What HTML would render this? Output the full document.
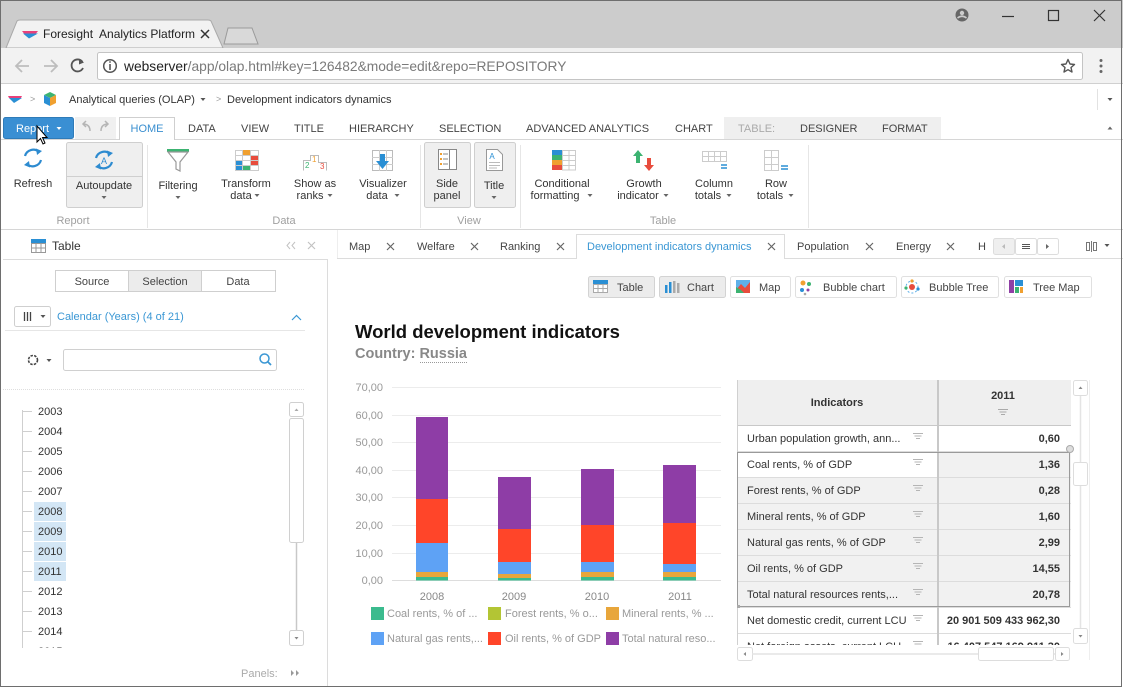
<!DOCTYPE html>
<html><head><meta charset="utf-8"><style>
html,body{margin:0;padding:0;background:#fff;width:1123px;height:687px;overflow:hidden;}
svg{display:block;font-family:"Liberation Sans",sans-serif;}
</style></head><body>
<svg width="1123" height="687" viewBox="0 0 1123 687" xmlns="http://www.w3.org/2000/svg">
<defs>
<clipPath id="treeclip"><rect x="0" y="398" width="290" height="250"/></clipPath>
<clipPath id="tblclip"><rect x="737" y="380" width="335" height="265"/></clipPath>
</defs>
<!-- title bar -->
<rect x="0" y="0" width="1123" height="48" fill="#cccccc"/>
<path d="M6,48 L17,21 Q18,20 20,20 L208,20 Q210,20 211,21 L223,48 Z" fill="#f2f2f2" stroke="#a9a9a9"/>
<path d="M224,44 L228,28 L252,28 L258,44 Z" fill="#d9d9d9" stroke="#9a9a9a"/>
<path d="M22,31 L38,31 L36,33.5 L24,33.5Z" fill="#e8407a"/>
<path d="M23,33.5 L38,33.5 L29,38.5 Z" fill="#2a8fd4"/>
<text x="43" y="38" font-size="12" fill="#222">Foresight&#160; Analytics Platform</text>
<path d="M201,30 L209,38 M209,30 L201,38" stroke="#333" stroke-width="1.5"/>
<!-- window controls -->
<circle cx="962" cy="15" r="6.5" fill="#666"/>
<circle cx="962" cy="13" r="2.2" fill="#ccc"/>
<path d="M957.5,18 Q962,14.5 966.5,18" stroke="#ccc" stroke-width="1.6" fill="none"/>
<path d="M1002,16.5 L1014,16.5" stroke="#333" stroke-width="1.2"/>
<rect x="1048.5" y="10.5" width="10" height="10" fill="none" stroke="#333" stroke-width="1.2"/>
<path d="M1094,10 L1105,21 M1105,10 L1094,21" stroke="#333" stroke-width="1.2"/>
<!-- toolbar -->
<rect x="0" y="48" width="1123" height="35" fill="#f2f2f2"/>
<path d="M0,83.5 L1123,83.5" stroke="#d0d0d0"/>
<path d="M16,66 L29,66 M22,60 L16,66 L22,72" stroke="#bdbdbd" stroke-width="1.8" fill="none"/>
<path d="M44,66 L57,66 M51,60 L57,66 L51,72" stroke="#bdbdbd" stroke-width="1.8" fill="none"/>
<path d="M82.5,62 A6,6 0 1 0 83,68" stroke="#555" stroke-width="1.8" fill="none"/>
<path d="M79,59 L84,62.5 L79,64.5Z" fill="#555"/>
<rect x="97.5" y="52.5" width="985" height="27" rx="2" fill="#fff" stroke="#c4c4c4"/>
<circle cx="110" cy="66" r="6.3" fill="none" stroke="#555" stroke-width="1.5"/>
<path d="M110,64 L110,70" stroke="#555" stroke-width="1.6"/><circle cx="110" cy="62" r="0.9" fill="#555"/>
<text x="124" y="71" font-size="13.8"><tspan fill="#222">webserver</tspan><tspan fill="#7a7a7a">/app/olap.html#key=126482&amp;mode=edit&amp;repo=REPOSITORY</tspan></text>
<path d="M1068,59.5 L1070,64 L1074.5,64.5 L1071,67.5 L1072,72 L1068,69.7 L1064,72 L1065,67.5 L1061.5,64.5 L1066,64 Z" fill="none" stroke="#555" stroke-width="1.4" stroke-linejoin="round"/>
<circle cx="1101" cy="60.5" r="1.5" fill="#666"/><circle cx="1101" cy="66" r="1.5" fill="#666"/><circle cx="1101" cy="71.5" r="1.5" fill="#666"/>
<!-- breadcrumb -->
<path d="M8,96 L22,96 L21,98 L9,98Z" fill="#e8407a"/>
<path d="M9,98 L22,98 L14,103 Z" fill="#2a8fd4"/>
<text x="30" y="102" font-size="9" fill="#999">&gt;</text>
<path d="M50,92 L56,95 L50,98 L44,95Z" fill="#3cb371"/>
<path d="M44,95 L50,98 L50,106 L44,103Z" fill="#2a8fd4"/>
<path d="M56,95 L50,98 L50,106 L56,103Z" fill="#f0a030"/>
<text x="69" y="103" font-size="11" fill="#333">Analytical queries (OLAP)</text>
<path d="M200.5,98 L205.5,98 L203,101Z" fill="#555"/>
<text x="216" y="102" font-size="9" fill="#999">&gt;</text>
<text x="227" y="103" font-size="11" fill="#333">Development indicators dynamics</text>
<path d="M1097.5,89 L1097.5,110" stroke="#e2e2e2"/>
<path d="M1107.5,98 L1112.5,98 L1110,101Z" fill="#555"/>
<!-- ribbon tabs -->
<rect x="3.5" y="117.5" width="70" height="21" rx="2" fill="#3a8fd3" stroke="#2f7bb8"/>
<text x="16" y="132" font-size="11" fill="#fff">Report</text>
<path d="M56.5,127 L61.5,127 L59,130Z" fill="#fff"/>
<rect x="75" y="117" width="41" height="22" fill="#f0f0f0"/>
<path d="M90,131 Q90,124 83,124 M86,121 L83,124 L86,127" stroke="#b5b5b5" stroke-width="1.5" fill="none"/>
<path d="M101,131 Q101,124 108,124 M105,121 L108,124 L105,127" stroke="#b5b5b5" stroke-width="1.5" fill="none"/>
<path d="M0,139.5 L119,139.5 M174,139.5 L1123,139.5" stroke="#d6d6d6"/>
<path d="M119.5,140 L119.5,117.5 L174.5,117.5 L174.5,140" fill="#fff" stroke="#cfcfcf"/>
<text x="147" y="132" font-size="11" fill="#3a8fd0" text-anchor="middle">HOME</text>
<g font-size="11" fill="#444">
<text x="188" y="132">DATA</text>
<text x="241" y="132">VIEW</text>
<text x="294" y="132">TITLE</text>
<text x="349" y="132">HIERARCHY</text>
<text x="439" y="132">SELECTION</text>
<text x="526" y="132">ADVANCED ANALYTICS</text>
<text x="675" y="132">CHART</text>
</g>
<rect x="724" y="117" width="217" height="22" fill="#efefef"/>
<text x="738" y="132" font-size="11" fill="#aaa">TABLE:</text>
<text x="800" y="132" font-size="11" fill="#444">DESIGNER</text>
<text x="882" y="132" font-size="11" fill="#444">FORMAT</text>
<path d="M1107.5,129.5 L1112.5,129.5 L1110,126.5Z" fill="#666"/>
<!-- ribbon body -->
<g stroke="#2d8bd0" stroke-width="2.2" fill="none">
<path d="M25,156 A8.5,8.5 0 0 1 39,152"/><path d="M41,160 A8.5,8.5 0 0 1 27,164"/>
</g>
<path d="M36,148.5 L42,151 L37,155Z" fill="#2d8bd0"/><path d="M30,167.5 L24,165 L29,161Z" fill="#2d8bd0"/>
<text x="33" y="187" font-size="11" fill="#333" text-anchor="middle">Refresh</text>
<rect x="66.5" y="142.5" width="76" height="65" rx="2" fill="#efefef" stroke="#cfcfcf"/>
<path d="M67,176.5 L142,176.5" stroke="#cfcfcf"/>
<g stroke="#2d8bd0" stroke-width="2.2" fill="none">
<path d="M96,158 A8.5,8.5 0 0 1 110,154"/><path d="M112,162 A8.5,8.5 0 0 1 98,166"/>
</g>
<path d="M107,150.5 L113,153 L108,157Z" fill="#2d8bd0"/><path d="M101,169.5 L95,167 L100,163Z" fill="#2d8bd0"/>
<text x="104" y="164" font-size="9" fill="#2d8bd0" text-anchor="middle">A</text>
<text x="104" y="189" font-size="11" fill="#333" text-anchor="middle">Autoupdate</text>
<path d="M101.5,196 L106.5,196 L104,199Z" fill="#666"/>
<path d="M147.5,145 L147.5,228" stroke="#e6e6e6"/>
<!-- filtering -->
<rect x="167" y="149" width="22" height="3" fill="#3cb371"/>
<path d="M168,152 L188,152 L180,162 L180,171 L176,169 L176,162 Z" fill="none" stroke="#999" stroke-width="1.2"/>
<text x="178" y="189" font-size="11" fill="#333" text-anchor="middle">Filtering</text>
<path d="M175.5,196 L180.5,196 L178,199Z" fill="#666"/>
<!-- transform -->
<g stroke="#ccc" fill="#fff"><rect x="235.5" y="150.5" width="23" height="20"/></g>
<rect x="243" y="150" width="7" height="5" fill="#f0a030"/>
<rect x="251" y="155" width="7" height="10" fill="#e84c3d"/>
<rect x="236" y="160" width="6" height="10" fill="#2a8fd4"/>
<rect x="243" y="165" width="7" height="5" fill="#3cb371"/>
<path d="M242.5,150 L242.5,171 M250.5,150 L250.5,171 M235,155.5 L259,155.5 M235,160.5 L259,160.5 M235,165.5 L259,165.5" stroke="#ccc"/>
<text x="246" y="187" font-size="11" fill="#333" text-anchor="middle">Transform</text>
<text x="241" y="199" font-size="11" fill="#333" text-anchor="middle">data</text>
<path d="M254.5,194 L259.5,194 L257,197Z" fill="#666"/>
<!-- ranks -->
<path d="M303.5,170.5 L303.5,160.5 L310.5,160.5 L310.5,155.5 L318.5,155.5 L318.5,162.5 L326.5,162.5 L326.5,170.5" fill="none" stroke="#bbb"/>
<text x="305" y="168" font-size="8" fill="#3cb371">2</text>
<text x="312" y="162" font-size="8" fill="#f0a030">1</text>
<text x="320" y="169" font-size="8" fill="#e84c3d">3</text>
<text x="315" y="187" font-size="11" fill="#333" text-anchor="middle">Show as</text>
<text x="310" y="199" font-size="11" fill="#333" text-anchor="middle">ranks</text>
<path d="M327.5,194 L332.5,194 L330,197Z" fill="#666"/>
<!-- visualizer -->
<rect x="372.5" y="150.5" width="20" height="20" fill="#fff" stroke="#bbb"/>
<path d="M379.5,150 L379.5,171 M386.5,150 L386.5,171 M372,157.5 L393,157.5 M372,164.5 L393,164.5" stroke="#ccc"/>
<path d="M380,154 L385,154 L385,161 L389,161 L382.5,169 L376,161 L380,161Z" fill="#2a8fd4"/>
<text x="383" y="187" font-size="11" fill="#333" text-anchor="middle">Visualizer</text>
<text x="377" y="199" font-size="11" fill="#333" text-anchor="middle">data</text>
<path d="M394.5,194 L399.5,194 L397,197Z" fill="#666"/>
<path d="M420.5,145 L420.5,228" stroke="#e6e6e6"/>
<!-- side panel -->
<rect x="424.5" y="142.5" width="46" height="65" rx="2" fill="#efefef" stroke="#cfcfcf"/>
<rect x="438.5" y="149.5" width="18" height="20" fill="#fff" stroke="#888"/>
<path d="M449.5,149.5 L449.5,169.5" stroke="#888"/>
<g fill="#f0a030"><rect x="440" y="153" width="2" height="2"/><rect x="440" y="158" width="2" height="2"/><rect x="440" y="163" width="2" height="2"/></g>
<path d="M443,154 L448,154 M443,159 L448,159 M443,164 L448,164" stroke="#888"/>
<text x="447" y="187" font-size="11" fill="#333" text-anchor="middle">Side</text>
<text x="447" y="199" font-size="11" fill="#333" text-anchor="middle">panel</text>
<!-- title -->
<rect x="474.5" y="142.5" width="41" height="65" rx="2" fill="#efefef" stroke="#cfcfcf"/>
<path d="M486.5,149.5 L497.5,149.5 L502.5,154.5 L502.5,170.5 L486.5,170.5Z" fill="#fff" stroke="#999"/>
<text x="492" y="159" font-size="8" fill="#2a8fd4" text-anchor="middle">A</text>
<path d="M489,162.5 L500,162.5 M489,165.5 L500,165.5 M489,168 L497,168" stroke="#bbb"/>
<text x="494" y="189" font-size="11" fill="#333" text-anchor="middle">Title</text>
<path d="M491.5,196 L496.5,196 L494,199Z" fill="#666"/>
<path d="M520.5,145 L520.5,228" stroke="#e6e6e6"/>
<!-- conditional -->
<rect x="552" y="150" width="5" height="5" fill="#2a8fd4"/><rect x="557" y="150" width="5" height="5" fill="#2a8fd4"/>
<rect x="552" y="155" width="5" height="5" fill="#3cb371"/><rect x="557" y="155" width="5" height="5" fill="#3cb371"/>
<rect x="552" y="160" width="5" height="5" fill="#f0a030"/><rect x="557" y="160" width="5" height="5" fill="#f0a030"/>
<rect x="552" y="165" width="5" height="5" fill="#e84c3d"/><rect x="557" y="165" width="5" height="5" fill="#e84c3d"/>
<rect x="562.5" y="150.5" width="13" height="19.5" fill="#fff" stroke="#ccc"/>
<path d="M569,150 L569,170 M562,155.5 L576,155.5 M562,160.5 L576,160.5 M562,165.5 L576,165.5" stroke="#ccc"/>
<text x="562" y="187" font-size="11" fill="#333" text-anchor="middle">Conditional</text>
<text x="555" y="199" font-size="11" fill="#333" text-anchor="middle">formatting</text>
<path d="M587.5,194 L592.5,194 L590,197Z" fill="#666"/>
<!-- growth -->
<path d="M638,150 L643,156 L640,156 L640,163 L636,163 L636,156 L633,156Z" fill="#3cb371"/>
<path d="M649,171 L654,165 L651,165 L651,158 L647,158 L647,165 L644,165Z" fill="#e84c3d"/>
<text x="644" y="187" font-size="11" fill="#333" text-anchor="middle">Growth</text>
<text x="638" y="199" font-size="11" fill="#333" text-anchor="middle">indicator</text>
<path d="M663.5,194 L668.5,194 L666,197Z" fill="#666"/>
<!-- column totals -->
<rect x="702.5" y="151.5" width="24" height="10" fill="#fff" stroke="#ccc"/>
<path d="M708.5,151 L708.5,162 M714.5,151 L714.5,162 M720.5,151 L720.5,162 M702,156.5 L727,156.5" stroke="#ccc"/>
<path d="M721,165 L727,165 M721,168 L727,168" stroke="#2a8fd4" stroke-width="1.6"/>
<text x="714" y="187" font-size="11" fill="#333" text-anchor="middle">Column</text>
<text x="708" y="199" font-size="11" fill="#333" text-anchor="middle">totals</text>
<path d="M726.5,194 L731.5,194 L729,197Z" fill="#666"/>
<!-- row totals -->
<rect x="764.5" y="150.5" width="14" height="20" fill="#fff" stroke="#ccc"/>
<path d="M771.5,150 L771.5,171 M764,157.5 L779,157.5 M764,164.5 L779,164.5" stroke="#ccc"/>
<path d="M781,166 L788,166 M781,169 L788,169" stroke="#2a8fd4" stroke-width="1.6"/>
<text x="776" y="187" font-size="11" fill="#333" text-anchor="middle">Row</text>
<text x="770" y="199" font-size="11" fill="#333" text-anchor="middle">totals</text>
<path d="M788.5,194 L793.5,194 L791,197Z" fill="#666"/>
<path d="M808.5,145 L808.5,228" stroke="#e6e6e6"/>
<!-- group labels -->
<g font-size="11" fill="#a0a0a0" text-anchor="middle">
<text x="73" y="224">Report</text><text x="284" y="224">Data</text><text x="469" y="224">View</text><text x="663" y="224">Table</text>
</g>
<path d="M0,229.5 L1123,229.5" stroke="#d6d6d6"/>
<!-- cursor -->
<path d="M37,126 L37,142 L40.5,138.5 L43,144 L45,143 L42.5,137.5 L47,137.5 Z" fill="#fff" stroke="#000" stroke-width="1"/>

<!-- LEFT PANEL -->
<rect x="31" y="239" width="15" height="4" fill="#2a8fd4"/>
<rect x="31.5" y="243.5" width="14" height="9" fill="#fff" stroke="#999"/>
<path d="M36,243 L36,253 M41,243 L41,253 M31,248 L46,248" stroke="#999"/>
<text x="52" y="250" font-size="12" fill="#333">Table</text>
<path d="M290,242 L287,245.5 L290,249 M295,242 L292,245.5 L295,249" stroke="#c2c2c2" fill="none"/>
<path d="M308,242 L315,249 M315,242 L308,249" stroke="#c2c2c2" stroke-width="1.2"/>
<path d="M3,259.5 L327.5,259.5 L327.5,687" stroke="#dcdcdc" fill="none"/>
<path d="M337.5,230 L337.5,259" stroke="#eee"/>
<rect x="55.5" y="270.5" width="220" height="21" fill="#fff" stroke="#cfcfcf"/>
<rect x="128.5" y="270.5" width="73" height="21" fill="#ececec" stroke="#cfcfcf"/>
<g font-size="11" fill="#444" text-anchor="middle">
<text x="92" y="285">Source</text><text x="165" y="285">Selection</text><text x="238" y="285">Data</text>
</g>
<rect x="14.5" y="306.5" width="36" height="20" rx="2" fill="#fff" stroke="#cfcfcf"/>
<path d="M24.5,312 L24.5,321 M27.5,312 L27.5,321 M30.5,312 L30.5,321" stroke="#444" stroke-width="1.3"/>
<path d="M40.5,315 L45.5,315 L43,318Z" fill="#555"/>
<text x="57" y="320" font-size="11" fill="#3a97d4">Calendar (Years) (4 of 21)</text>
<path d="M292,320 L296.5,315.5 L301,320" stroke="#3a97d4" fill="none" stroke-width="1.2"/>
<path d="M5,330.5 L305,330.5" stroke="#e6e6e6"/>
<circle cx="33" cy="360" r="4.5" fill="none" stroke="#444" stroke-width="1.6" stroke-dasharray="2.5 1.2"/>
<path d="M46.5,359 L51.5,359 L49,362Z" fill="#555"/>
<rect x="63.5" y="349.5" width="213" height="21" rx="2" fill="#fff" stroke="#d0d0d0"/>
<circle cx="264.5" cy="358.5" r="4.5" fill="none" stroke="#3a97d4" stroke-width="1.5"/>
<path d="M268,362 L271,365" stroke="#3a97d4" stroke-width="1.8"/>
<path d="M3,389.5 L305,389.5" stroke="#dedede" stroke-dasharray="1 1"/>
<g clip-path="url(#treeclip)">
<path d="M22.5,410 L22.5,648" stroke="#cfcfcf"/>
<g stroke="#cfcfcf">
<path d="M22,411.5 L32,411.5 M22,431.5 L32,431.5 M22,451.5 L32,451.5 M22,471.5 L32,471.5 M22,491.5 L32,491.5 M22,511.5 L32,511.5 M22,531.5 L32,531.5 M22,551.5 L32,551.5 M22,571.5 L32,571.5 M22,591.5 L32,591.5 M22,611.5 L32,611.5 M22,631.5 L32,631.5 M22,651.5 L32,651.5"/>
</g>
<g fill="#d3e6f5">
<rect x="34" y="502" width="32" height="19"/><rect x="34" y="522" width="32" height="19"/><rect x="34" y="542" width="32" height="19"/><rect x="34" y="562" width="32" height="19"/>
</g>
<g font-size="11" fill="#333">
<text x="38" y="415">2003</text><text x="38" y="435">2004</text><text x="38" y="455">2005</text><text x="38" y="475">2006</text>
<text x="38" y="495">2007</text><text x="38" y="515">2008</text><text x="38" y="535">2009</text><text x="38" y="555">2010</text>
<text x="38" y="575">2011</text><text x="38" y="595">2012</text><text x="38" y="615">2013</text><text x="38" y="635">2014</text>
<text x="38" y="655">2015</text>
</g>
</g>
<rect x="289.5" y="402.5" width="14" height="14" rx="2" fill="#fff" stroke="#d0d0d0"/>
<path d="M294.5,411 L298.5,411 L296.5,408.5Z" fill="#aaa"/>
<rect x="289.5" y="418.5" width="14" height="124" rx="2" fill="#fff" stroke="#d0d0d0"/>
<path d="M296.5,543 L296.5,630" stroke="#c8c8c8" stroke-width="1.5"/>
<rect x="289.5" y="630.5" width="14" height="15" rx="2" fill="#fff" stroke="#d0d0d0"/>
<path d="M294.5,637 L298.5,637 L296.5,639.5Z" fill="#888"/>
<text x="241" y="677" font-size="11" fill="#aaa">Panels:</text>
<path d="M291,670 L294,673 L291,676Z M296,670 L299,673 L296,676Z" fill="#999"/>

<!-- MAIN TABS -->
<path d="M337,258.5 L576,258.5 M784,258.5 L1123,258.5" stroke="#dcdcdc"/>
<path d="M576.5,259 L576.5,234.5 L784.5,234.5 L784.5,259" fill="#fff" stroke="#dcdcdc"/>
<g font-size="11" fill="#444">
<text x="349" y="250">Map</text><text x="417" y="250">Welfare</text><text x="500" y="250">Ranking</text>
<text x="797" y="250">Population</text><text x="896" y="250">Energy</text><text x="978" y="250">H</text>
</g>
<text x="587" y="250" font-size="11" fill="#3a97d4">Development indicators dynamics</text>
<g stroke="#666" stroke-width="1.2">
<path d="M387,243 L394,250 M394,243 L387,250"/>
<path d="M471,243 L478,250 M478,243 L471,250"/>
<path d="M557,243 L564,250 M564,243 L557,250"/>
<path d="M768,243 L775,250 M775,243 L768,250"/>
<path d="M866,243 L873,250 M873,243 L866,250"/>
<path d="M947,243 L954,250 M954,243 L947,250"/>
</g>
<rect x="993.5" y="238.5" width="21" height="16" rx="2" fill="#efefef" stroke="#ddd"/>
<rect x="1015.5" y="238.5" width="21" height="16" rx="2" fill="#fff" stroke="#ddd"/>
<rect x="1037.5" y="238.5" width="21" height="16" rx="2" fill="#fff" stroke="#ddd"/>
<path d="M1005,244 L1002,246.5 L1005,249Z" fill="#bbb"/>
<path d="M1022,244.5 L1030,244.5 M1022,246.5 L1030,246.5 M1022,248.5 L1030,248.5" stroke="#555"/>
<path d="M1046,244 L1049,246.5 L1046,249Z" fill="#666"/>
<path d="M1086.5,242.5 L1086.5,250.5 M1089.5,242.5 L1089.5,250.5 M1093.5,242.5 L1093.5,250.5 M1096.5,242.5 L1096.5,250.5 M1086,242.5 L1090,242.5 M1086,250.5 L1090,250.5 M1093,242.5 L1097,242.5 M1093,250.5 L1097,250.5 M1091.5,241 L1091.5,252" stroke="#777"/>
<path d="M1104.5,244 L1109.5,244 L1107,247Z" fill="#555"/>

<!-- view buttons -->
<rect x="588.5" y="276.5" width="66" height="21" rx="2" fill="#ececec" stroke="#d3d3d3"/>
<rect x="659.5" y="276.5" width="66" height="21" rx="2" fill="#ececec" stroke="#d3d3d3"/>
<rect x="730.5" y="276.5" width="60" height="21" rx="2" fill="#fff" stroke="#e0e0e0"/>
<rect x="795.5" y="276.5" width="101" height="21" rx="2" fill="#fff" stroke="#e0e0e0"/>
<rect x="901.5" y="276.5" width="97" height="21" rx="2" fill="#fff" stroke="#e0e0e0"/>
<rect x="1004.5" y="276.5" width="87" height="21" rx="2" fill="#fff" stroke="#e0e0e0"/>
<rect x="593" y="280" width="15" height="4" fill="#2a8fd4"/>
<rect x="593.5" y="284.5" width="14" height="8" fill="#fff" stroke="#aaa"/>
<path d="M598,284 L598,293 M603,284 L603,293 M593,288.5 L608,288.5" stroke="#aaa"/>
<rect x="665" y="285" width="2.5" height="8" fill="#2a8fd4"/><rect x="669" y="282" width="2.5" height="11" fill="#2a8fd4"/><rect x="673" y="281" width="2.5" height="12" fill="#aaa"/><rect x="677" y="283" width="2.5" height="10" fill="#aaa"/>
<rect x="736" y="280" width="14" height="13" fill="#5fb0e8"/><path d="M736,290 L741,284 L745,288 L750,282 L750,293 L736,293Z" fill="#e84c3d"/><path d="M736,293 L736,287 L741,290 L744,293Z" fill="#3cb371"/>
<circle cx="803" cy="283" r="2.5" fill="#f0a030"/><circle cx="809" cy="284" r="2" fill="#3cb371"/><circle cx="802" cy="290" r="2" fill="#2a8fd4"/><circle cx="808" cy="290" r="1.5" fill="#8f3fa5"/><circle cx="805" cy="294" r="1.3" fill="#aaa"/>
<circle cx="912" cy="287" r="3" fill="#e84c3d"/><circle cx="912" cy="287" r="6" fill="none" stroke="#5fb0e8" stroke-width="1" stroke-dasharray="2 2"/><circle cx="912" cy="281" r="1.6" fill="#f0a030"/><circle cx="906" cy="288" r="1.6" fill="#3cb371"/><circle cx="918" cy="289" r="1.6" fill="#2a8fd4"/>
<rect x="1009" y="280" width="5" height="13" fill="#8f3fa5"/><rect x="1015" y="280" width="8" height="6" fill="#2a8fd4"/><rect x="1015" y="287" width="4" height="6" fill="#3cb371"/><rect x="1020" y="287" width="3" height="6" fill="#f0a030"/>
<g font-size="11" fill="#444">
<text x="617" y="291">Table</text><text x="687" y="291">Chart</text><text x="759" y="291">Map</text>
<text x="823" y="291">Bubble chart</text><text x="929" y="291">Bubble Tree</text><text x="1033" y="291">Tree Map</text>
</g>

<!-- CHART -->
<text x="355" y="338" font-size="18.5" font-weight="bold" fill="#111">World development indicators</text>
<text x="355" y="358" font-size="14.5" font-weight="bold" fill="#888">Country: <tspan>Russia</tspan></text>
<path d="M420,362.5 L467,362.5" stroke="#999" stroke-dasharray="1 1"/>
<g stroke="#ececec">
<path d="M392,387.5 L721,387.5 M392,415.5 L721,415.5 M392,442.5 L721,442.5 M392,470.5 L721,470.5 M392,497.5 L721,497.5 M392,525.5 L721,525.5 M392,553.5 L721,553.5"/>
</g>
<path d="M392,580.5 L721,580.5" stroke="#ddd"/>
<g font-size="11" fill="#999" text-anchor="end">
<text x="383" y="391">70,00</text><text x="383" y="419">60,00</text><text x="383" y="446">50,00</text><text x="383" y="474">40,00</text>
<text x="383" y="501">30,00</text><text x="383" y="529">20,00</text><text x="383" y="557">10,00</text><text x="383" y="584">0,00</text>
</g>
<!-- 2008 -->
<rect x="416" y="417" width="32" height="82" fill="#8e3da6"/>
<rect x="416" y="499" width="32" height="44" fill="#ff4529"/>
<rect x="416" y="543" width="32" height="29" fill="#5ea2f5"/>
<rect x="416" y="572" width="32" height="5" fill="#e8a63b"/>
<rect x="416" y="577" width="32" height="3.5" fill="#3bbb8e"/>
<!-- 2009 -->
<rect x="498" y="477" width="33" height="52" fill="#8e3da6"/>
<rect x="498" y="529" width="33" height="33" fill="#ff4529"/>
<rect x="498" y="562" width="33" height="12" fill="#5ea2f5"/>
<rect x="498" y="574" width="33" height="4" fill="#e8a63b"/>
<rect x="498" y="578" width="33" height="2.5" fill="#3bbb8e"/>
<!-- 2010 -->
<rect x="581" y="469" width="33" height="56" fill="#8e3da6"/>
<rect x="581" y="525" width="33" height="37" fill="#ff4529"/>
<rect x="581" y="562" width="33" height="10" fill="#5ea2f5"/>
<rect x="581" y="572" width="33" height="5" fill="#e8a63b"/>
<rect x="581" y="577" width="33" height="3.5" fill="#3bbb8e"/>
<!-- 2011 -->
<rect x="663" y="465" width="33" height="58" fill="#8e3da6"/>
<rect x="663" y="523" width="33" height="41" fill="#ff4529"/>
<rect x="663" y="564" width="33" height="8" fill="#5ea2f5"/>
<rect x="663" y="572" width="33" height="5" fill="#e8a63b"/>
<rect x="663" y="577" width="33" height="3.5" fill="#3bbb8e"/>
<g font-size="11" fill="#888" text-anchor="middle">
<text x="432" y="600">2008</text><text x="514" y="600">2009</text><text x="597" y="600">2010</text><text x="680" y="600">2011</text>
</g>
<rect x="371" y="607" width="13" height="13" fill="#3bbb8e"/>
<rect x="488" y="607" width="13" height="13" fill="#b3c534"/>
<rect x="606" y="607" width="13" height="13" fill="#e8a63b"/>
<rect x="371" y="632" width="13" height="13" fill="#5ea2f5"/>
<rect x="488" y="632" width="13" height="13" fill="#ff4529"/>
<rect x="606" y="632" width="13" height="13" fill="#8e3da6"/>
<g font-size="11" fill="#999">
<text x="387" y="617">Coal rents, % of ...</text><text x="505" y="617">Forest rents, % o...</text><text x="622" y="617">Mineral rents, % ...</text>
<text x="387" y="642">Natural gas rents,...</text><text x="505" y="642">Oil rents, % of GDP</text><text x="622" y="642">Total natural reso...</text>
</g>

<!-- TABLE -->
<g clip-path="url(#tblclip)">
<rect x="737" y="380" width="334" height="45" fill="#efefef"/>
<rect x="737" y="451" width="334" height="156" fill="#f1f1f1"/>
<rect x="738" y="452" width="200" height="25" fill="#fff"/>
<g stroke="#dcdcdc">
<path d="M737,425.5 L1071,425.5" stroke="#c8c8c8"/>
<path d="M737,451.5 L1071,451.5 M737,477.5 L1071,477.5 M737,503.5 L1071,503.5 M737,529.5 L1071,529.5 M737,555.5 L1071,555.5 M737,581.5 L1071,581.5 M737,607.5 L1071,607.5 M737,633.5 L1071,633.5"/>
</g>
<path d="M737.5,380 L737.5,645" stroke="#d0d0d0"/>
<path d="M938,380 L938,645" stroke="#c8c8c8" stroke-width="2"/>
<rect x="737.5" y="452.5" width="332" height="154" fill="none" stroke="#9a9a9a"/>
<text x="837" y="406" font-size="11" font-weight="bold" fill="#333" text-anchor="middle">Indicators</text>
<text x="1003" y="399" font-size="11" font-weight="bold" fill="#333" text-anchor="middle">2011</text>
<path d="M998,409.5 L1008,409.5 M999.5,412 L1006.5,412 M1001,414.5 L1005,414.5" stroke="#aaa"/>
<g font-size="11" fill="#333">
<text x="747" y="442">Urban population growth, ann...</text>
<text x="747" y="468">Coal rents, % of GDP</text>
<text x="747" y="494">Forest rents, % of GDP</text>
<text x="747" y="520">Mineral rents, % of GDP</text>
<text x="747" y="546">Natural gas rents, % of GDP</text>
<text x="747" y="572">Oil rents, % of GDP</text>
<text x="747" y="598">Total natural resources rents,...</text>
<text x="747" y="624">Net domestic credit, current LCU</text>
<text x="747" y="650">Net foreign assets, current LCU</text>
</g>
<g stroke="#b5b5b5">
<path d="M913,433.5 L923,433.5 M914.5,436 L921.5,436 M916,438.5 L920,438.5"/>
<path d="M913,459.5 L923,459.5 M914.5,462 L921.5,462 M916,464.5 L920,464.5"/>
<path d="M913,485.5 L923,485.5 M914.5,488 L921.5,488 M916,490.5 L920,490.5"/>
<path d="M913,511.5 L923,511.5 M914.5,514 L921.5,514 M916,516.5 L920,516.5"/>
<path d="M913,537.5 L923,537.5 M914.5,540 L921.5,540 M916,542.5 L920,542.5"/>
<path d="M913,563.5 L923,563.5 M914.5,566 L921.5,566 M916,568.5 L920,568.5"/>
<path d="M913,589.5 L923,589.5 M914.5,592 L921.5,592 M916,594.5 L920,594.5"/>
<path d="M913,615.5 L923,615.5 M914.5,618 L921.5,618 M916,620.5 L920,620.5"/>
<path d="M913,641.5 L923,641.5 M914.5,644 L921.5,644"/>
</g>
<g font-size="11" font-weight="bold" fill="#333" text-anchor="end">
<text x="1060" y="442">0,60</text><text x="1060" y="468">1,36</text><text x="1060" y="494">0,28</text><text x="1060" y="520">1,60</text>
<text x="1060" y="546">2,99</text><text x="1060" y="572">14,55</text><text x="1060" y="598">20,78</text>
<text x="1060" y="624">20 901 509 433 962,30</text><text x="1060" y="650">16 407 547 169 911,30</text>
</g>
</g>
<circle cx="1070" cy="449" r="3.5" fill="#ddd" stroke="#aaa"/>
<rect x="737" y="605" width="3" height="3" fill="#aaa"/>
<!-- table scrollbars -->
<rect x="1073.5" y="380.5" width="14" height="15" rx="2" fill="#fff" stroke="#ddd"/>
<path d="M1078.5,389 L1082.5,389 L1080.5,386.5Z" fill="#888"/>
<path d="M1080.5,396 L1080.5,628" stroke="#e4e4e4" stroke-width="1.5"/>
<rect x="1073.5" y="462.5" width="14" height="23" rx="2" fill="#fff" stroke="#ddd"/>
<rect x="1073.5" y="628.5" width="14" height="15" rx="2" fill="#fff" stroke="#ddd"/>
<path d="M1078.5,635 L1082.5,635 L1080.5,637.5Z" fill="#888"/>
<path d="M1089.5,380 L1089.5,660" stroke="#eeeeee"/>
<rect x="737.5" y="647.5" width="15" height="13" rx="2" fill="#fff" stroke="#ddd"/>
<path d="M746,652 L743.5,654 L746,656Z" fill="#888"/>
<path d="M752,654 L1055,654" stroke="#e4e4e4" stroke-width="1.5"/>
<rect x="978.5" y="647.5" width="75" height="13" rx="2" fill="#fff" stroke="#ddd"/>
<rect x="1055.5" y="647.5" width="14" height="13" rx="2" fill="#fff" stroke="#ddd"/>
<path d="M1061,652 L1063.5,654 L1061,656Z" fill="#888"/>
<!-- window border -->
<rect x="0.5" y="0.5" width="1121" height="686" fill="none" stroke="#6e6e6e"/>
</svg>
</body></html>
